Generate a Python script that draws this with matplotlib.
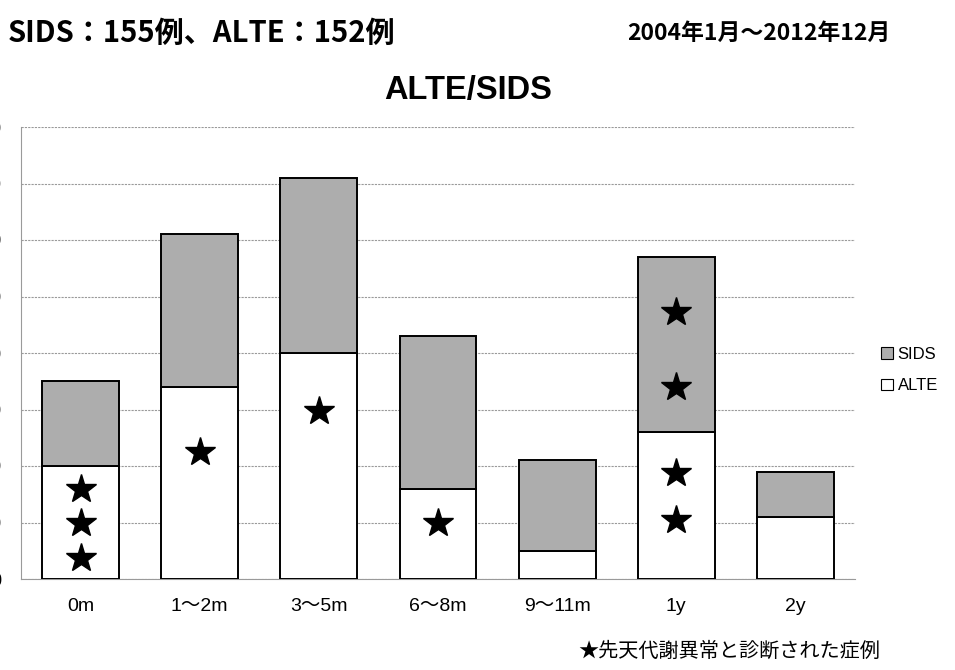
import matplotlib
matplotlib.use("Agg")
import matplotlib.pyplot as plt
import numpy as np

plt.rcParams['font.family'] = ['Liberation Sans', 'Noto Sans CJK JP', 'DejaVu Sans']

categories = ["0m", "1～2m", "3～5m", "6～8m", "9～11m", "1y", "2y"]
alte = [20, 34, 40, 16, 5, 26, 11]
sids = [15, 27, 31, 27, 16, 31, 8]
yticks = [0, 10, 20, 30, 40, 50, 60, 70, 80]

# cases diagnosed with an inborn error of metabolism (category index, height)
star_cat = [0, 0, 0, 1, 2, 3, 5, 5, 5, 5]
star_y = [16, 10, 3.7, 22.4, 29.7, 10, 47.3, 34, 18.8, 10.4]

W, H = 955, 670
fig = plt.figure(figsize=(W / 100, H / 100), dpi=100)
ax = fig.add_axes([21 / W, 1 - 579 / H, (855 - 21) / W, (579 - 127) / H])

x = np.arange(len(categories))
bw = 0.645
gray = "#adadad"
ax.bar(x, alte, bw, color="white", edgecolor="black", linewidth=1.4, zorder=3, label="ALTE")
ax.bar(x, sids, bw, bottom=alte, color=gray, edgecolor="black", linewidth=1.4, zorder=3, label="SIDS")

ax.plot(x[star_cat], star_y, linestyle="none", marker="*", markersize=22,
        color="black", zorder=4)

ax.set_xlim(-0.5, len(categories) - 0.5)
ax.set_ylim(0, 80)
ax.set_yticks(yticks)
ax.yaxis.grid(True, color="#9a9a9a", linestyle=(0, (2, 1)), linewidth=0.8, zorder=0)
ax.tick_params(axis="y", length=0, pad=14, labelsize=13)
ax.tick_params(axis="x", length=0, pad=14, labelsize=14)
ax.set_xticks(x)
ax.set_xticklabels(categories)

for side in ["top", "right"]:
    ax.spines[side].set_visible(False)
for side in ["left", "bottom"]:
    ax.spines[side].set_color("#9a9a9a")
    ax.spines[side].set_linestyle((0, (2, 1)))
    ax.spines[side].set_linewidth(0.8)

handles, labels = ax.get_legend_handles_labels()
leg = fig.legend(handles[::-1], labels[::-1], loc="center left",
                 bbox_to_anchor=(866 / W, 1 - 370 / H), frameon=False,
                 fontsize=12, handlelength=0.7, handleheight=0.7,
                 handletextpad=0.3, labelspacing=1.0)
for h in leg.legend_handles:
    h.set_linewidth(0.8)

fig.text(468 / W, 1 - 91 / H, "ALTE/SIDS", ha="center", va="center",
         fontsize=23.5, fontweight="bold")
fig.text(8 / W, 1 - 33 / H, "SIDS：155例、ALTE：152例", ha="left", va="center",
         fontsize=21, fontweight="bold", family=["Noto Sans CJK JP"])
fig.text(627 / W, 1 - 33 / H, "2004年1月～2012年12月", ha="left", va="center",
         fontsize=16.5, fontweight="bold", family=["Noto Sans CJK JP"])
fig.text(880 / W, 1 - 651 / H, "★先天代謝異常と診断された症例", ha="right", va="center",
         fontsize=14.5, family=["Noto Sans CJK JP"])

fig.savefig("out.png", dpi=100)
